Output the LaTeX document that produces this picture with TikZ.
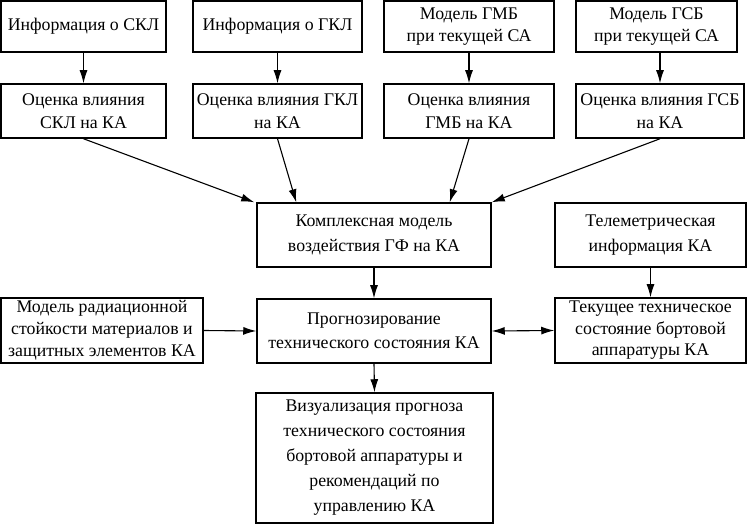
\documentclass[tikz,border=0pt]{standalone}
\usepackage{fontspec}
\setmainfont{Liberation Serif}
\usetikzlibrary{arrows.meta,calc}
\newcommand\boxfont{\fontsize{17.8}{22.5}\selectfont}
\newcommand\bigskipfont{\fontsize{17.8}{25}\selectfont}
\begin{document}
\begin{tikzpicture}[x=1pt,y=-1pt,
  box/.style={draw, line width=1.5pt, align=center, inner sep=0pt, font=\boxfont},
  arr/.style={line width=1.1pt, -{Latex[length=13pt,width=8pt]}},
  darr/.style={line width=1.1pt, {Latex[length=13pt,width=8pt]}-{Latex[length=13pt,width=8pt]}}]
\useasboundingbox (0,0) rectangle (748,524);
% row 1
\node[box, minimum width=165pt, minimum height=51pt] (a1) at (83.5,26.5) {Информация о СКЛ};
\node[box, minimum width=169pt, minimum height=51pt] (a2) at (277.5,26.5) {Информация о ГКЛ};
\node[box, minimum width=170pt, minimum height=51pt] (a3) at (469,26.5) {Модель ГМБ\\при текущей СА};
\node[box, minimum width=161pt, minimum height=51pt] (a4) at (656.5,26.5) {Модель ГСБ\\при текущей СА};
% row 2
\node[box, minimum width=165pt, minimum height=54pt] (b1) at (83.5,111) {Оценка влияния\\СКЛ на КА};
\node[box, minimum width=169pt, minimum height=54pt] (b2) at (277.5,111) {Оценка влияния ГКЛ\\на КА};
\node[box, minimum width=170pt, minimum height=54pt] (b3) at (469,111) {Оценка влияния\\ГМБ на КА};
\node[box, minimum width=168pt, minimum height=54pt] (b4) at (660,111) {Оценка влияния ГСБ\\на КА};
% middle
\node[box, minimum width=234pt, minimum height=64pt, font=\bigskipfont] (c) at (374,235) {Комплексная модель\\воздействия ГФ на КА};
\node[box, minimum width=191pt, minimum height=64pt, font=\bigskipfont] (t) at (650.5,235) {Телеметрическая\\информация КА};
\node[box, minimum width=202pt, minimum height=65pt, font=\fontsize{17.8}{22}\selectfont] (r) at (102,330.5) {Модель радиационной\\стойкости материалов и\\защитных элементов КА};
\node[box, minimum width=234pt, minimum height=64pt, font=\fontsize{17.8}{23.5}\selectfont] (p) at (374,331) {Прогнозирование\\технического состояния КА};
\node[box, minimum width=191pt, minimum height=65pt, font=\fontsize{17.8}{21.5}\selectfont] (s) at (650.5,330.5) {Текущее техническое\\состояние бортовой\\аппаратуры КА};
\node[box, minimum width=237pt, minimum height=130pt, font=\bigskipfont] (v) at (374.5,458) {Визуализация прогноза\\технического состояния\\бортовой аппаратуры и\\рекомендаций по\\управлению КА};
% arrows row1 -> row2
\draw[arr] (a1.south) -- (b1.north);
\draw[arr] (a2.south) -- (b2.north);
\draw[arr] (a3.south) -- (b3.north);
\draw[arr] (b4.north |- a4.south) -- (b4.north);
% arrows row2 -> complex
\draw[arr] (b1.south) -- ($(c.north west)+(-2,0)$);
\draw[arr] (b2.south) -- ($(c.north west)+(40,0)$);
\draw[arr] (b3.south) -- ($(c.north east)+(-42,0)$);
\draw[arr] (b4.south) -- (c.north east);
% rest
\draw[arr] (c.south) -- (p.north);
\draw[arr] (t.south) -- (s.north);
\draw[arr] (r.east) -- (p.west);
\draw[darr] (p.east) -- (s.west);
\draw[arr] (p.south) -- (v.north);
\end{tikzpicture}
\end{document}
